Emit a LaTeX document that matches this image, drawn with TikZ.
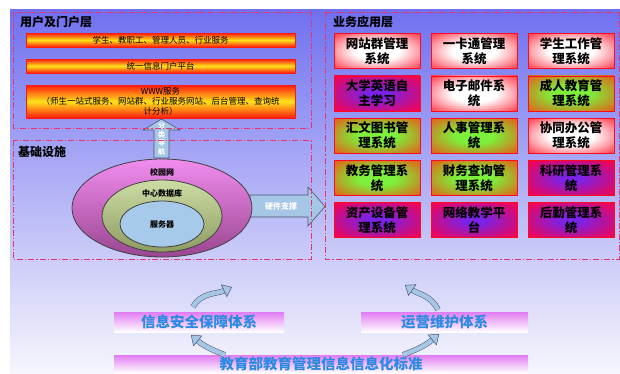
\documentclass[tikz,border=0pt]{standalone}
\usepackage{fontspec}
\setmainfont{Noto Sans CJK SC}
\usetikzlibrary{arrows.meta,shapes.geometric,calc}
\definecolor{PanelTop}{HTML}{7070F0}
\definecolor{PanelBottom}{HTML}{F6F6FD}
\definecolor{DashRed}{HTML}{E8336E}
\definecolor{BarRed}{HTML}{FF1A10}
\definecolor{BarYellow}{HTML}{FFE21A}
\definecolor{AppRed}{HTML}{FF0A1E}
\definecolor{AppOrange}{HTML}{FF3A10}
\definecolor{AppPink}{HTML}{FF0044}
\definecolor{AppGreen}{HTML}{7CF03A}
\definecolor{AppViolet}{HTML}{7A22E6}
\definecolor{ArrowBlue}{HTML}{A6C6E6}
\definecolor{ArrowEdge}{HTML}{4A5470}
\definecolor{RingPink}{HTML}{F08CEE}
\definecolor{RingPurple}{HTML}{9A4690}
\definecolor{RingOlive}{HTML}{CCDCA4}
\definecolor{RingOliveDark}{HTML}{8E9C62}
\definecolor{RingBlue}{HTML}{A8CAEA}
\definecolor{BandPink}{HTML}{E27CF2}
\definecolor{BandText}{HTML}{2B8BE2}
\pgfdeclareradialshading{appglowwhite}{\pgfpoint{0bp}{0bp}}{color(0bp)=(white); color(13bp)=(white); color(41bp)=(AppRed); color(50bp)=(AppRed)}
\pgfdeclareradialshading{appglowgreen}{\pgfpoint{0bp}{0bp}}{color(0bp)=(AppGreen); color(11bp)=(AppGreen); color(41bp)=(AppOrange); color(50bp)=(AppOrange)}
\pgfdeclareradialshading{appglowviolet}{\pgfpoint{0bp}{0bp}}{color(0bp)=(AppViolet); color(6bp)=(AppViolet); color(36bp)=(AppPink); color(50bp)=(AppPink)}

\begin{document}
\begin{tikzpicture}[x=1pt,y=1pt,
    layerbox/.style={draw=DashRed,line width=0.8pt,dash pattern=on 6pt off 2pt on 1.2pt off 2pt},
    layertitle/.style={anchor=west,inner sep=0pt,font=\fontsize{12}{14}\selectfont\bfseries},
    portalbar/.style={minimum width=269pt,inner sep=0pt,draw=BarRed,line width=0.3pt,top color=BarRed,bottom color=BarRed,middle color=BarYellow,align=center,font=\fontsize{8.5}{10}\selectfont},
    appbox/.style={draw=AppRed,line width=0.6pt,minimum width=86pt,minimum height=35pt,inner sep=0pt,align=center,shade,font=\fontsize{12.5}{15}\selectfont\bfseries},
    appw/.style={appbox,shading=appglowwhite},
    appg/.style={appbox,shading=appglowgreen},
    appv/.style={appbox,shading=appglowviolet},
    ring/.style={ellipse,draw=black!75,line width=0.8pt,inner sep=0pt},
    ringlabel/.style={inner sep=0pt,font=\fontsize{8}{10}\selectfont\bfseries},
    blockarrow/.style={draw=ArrowEdge,line width=0.6pt,fill=ArrowBlue},
    arrowtext/.style={inner sep=0pt,text=white,align=center,font=\fontsize{8}{8.6}\selectfont\bfseries},
    bentarrow/.style={draw=ArrowEdge,line width=0.5pt,double=ArrowBlue,double distance=4.5pt,
      -{Triangle[length=9pt,width=14pt,line width=0.5pt,fill=ArrowBlue]}},
    band/.style={inner sep=0pt,top color=BandPink,bottom color=white,text=BandText,font=\fontsize{14.5}{16}\selectfont\bfseries},
  ]
  \useasboundingbox (0,0) rectangle (620,-373);
  \fill[top color=PanelTop,bottom color=PanelBottom] (10,-9) rectangle (620,-373);

  % infrastructure arrows
  \draw[blockarrow] (154,-158) -- (154,-130) -- (143,-130) -- (161.5,-119) -- (180,-130) -- (169,-130) -- (169,-158) -- cycle;
  \node[arrowtext,font=\fontsize{7}{8.6}\selectfont\bfseries] (navtext) at (161.5,-139) {分\\类\\导\\航};
  \draw[blockarrow] (250,-195) -- (308,-195) -- (308,-187) -- (325,-206.5) -- (308,-226) -- (308,-217) -- (250,-217) -- cycle;
  \node[arrowtext] (hwtext) at (281,-206) {硬件支撑};

  % rings
  \node[ring,minimum width=180pt,minimum height=98pt,top color=RingPink,bottom color=RingPurple] (campus) at (162,-208) {};
  \node[ring,minimum width=120pt,minimum height=72pt,top color=RingOlive,bottom color=RingOliveDark] (datacenter) at (162,-216) {};
  \node[ring,minimum width=84pt,minimum height=46pt,fill=RingBlue,font=\fontsize{8}{10}\selectfont\bfseries] (server) at (162,-224) {服务器};
  \node[ringlabel] (campuslbl) at (162,-172) {校园网};
  \node[ringlabel] (datalbl) at (162,-193) {中心数据库};

  % layers
  \draw[layerbox] (13,-12) rectangle (311,-128);
  \draw[layerbox] (13,-140) rectangle (311,-259);
  \draw[layerbox] (325,-12) rectangle (619,-259);
  \node[layertitle] (portaltitle) at (20,-22) {用户及门户层};
  \node[layertitle] (apptitle) at (333,-22) {业务应用层};
  \node[layertitle] (infratitle) at (18,-152) {基础设施};

  % portal bars
  \node[portalbar,minimum height=14pt] (users) at (160.5,-40) {学生、教职工、管理人员、行业服务};
  \node[portalbar,minimum height=14pt] (portal) at (160.5,-66) {统一信息门户平台};
  \node[portalbar,minimum height=33pt] (www) at (160.5,-101.5) {WWW服务\\（师生一站式服务、网站群、行业服务网站、后台管理、查询统\\计分析）};

  % application systems
  \foreach \r/\c/\txt/\sty in {1/1/{网站群管理\\系统}/appw,1/2/{一卡通管理\\系统}/appw,1/3/{学生工作管\\理系统}/appw,
      2/1/{大学英语自\\主学习}/appv,2/2/{电子邮件系\\统}/appw,2/3/{成人教育管\\理系统}/appg,
      3/1/{汇文图书管\\理系统}/appg,3/2/{人事管理系\\统}/appg,3/3/{协同办公管\\理系统}/appw,
      4/1/{教务管理系\\统}/appg,4/2/{财务查询管\\理系统}/appg,4/3/{科研管理系\\统}/appv,
      5/1/{资产设备管\\理系统}/appv,5/2/{网络教学平\\台}/appv,5/3/{后勤管理系\\统}/appv} {
    \node[\sty] (app\r\c) at ({377+97*(\c-1)},{-51-42.3*(\r-1)}) {\txt};
  }

  % support systems
  \node[band,minimum width=170pt,minimum height=20pt] (security) at (199,-322) {信息安全保障体系};
  \node[band,minimum width=167pt,minimum height=20pt] (operation) at (444.5,-322) {运营维护体系};
  \node[band,minimum width=414pt,minimum height=18pt] (standard) at (321,-364) {教育部教育管理信息信息化标准};
  \coordinate (securityup) at (232,-287);
  \coordinate (operationup) at (405,-285);
  \draw[bentarrow] ($(security.north)+(-6,5)$) to[out=60,in=205] (securityup);
  \draw[bentarrow] ($(operation.north)+(-6.5,2)$) to[out=115,in=-35] (operationup);
  \draw[bentarrow] ($(standard.north)+(-96,0)$) to[out=160,in=-40] ($(security.south)+(-8,-3)$);
  \draw[bentarrow] ($(standard.north)+(82,0)$) to[out=20,in=220] ($(operation.south)+(-5.5,-2)$);
\end{tikzpicture}
\end{document}
